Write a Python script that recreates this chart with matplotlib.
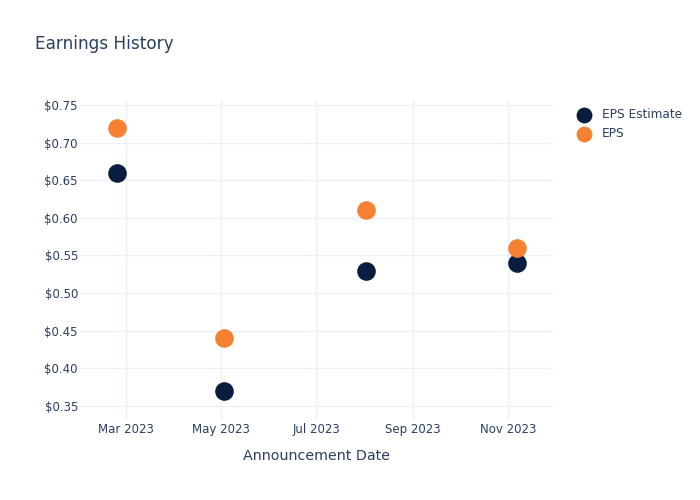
import matplotlib
matplotlib.use("Agg")
import matplotlib.pyplot as plt
import matplotlib.ticker as mticker
from datetime import datetime

dates = ["2023-02-23", "2023-05-03", "2023-08-02", "2023-11-07"]
eps_estimate = [0.66, 0.37, 0.53, 0.54]
eps_actual = [0.72, 0.44, 0.61, 0.56]
tick_dates = ["2023-03-01", "2023-05-01", "2023-07-01", "2023-09-01", "2023-11-01"]
tick_labels = ["Mar 2023", "May 2023", "Jul 2023", "Sep 2023", "Nov 2023"]
y_ticks = [0.35, 0.40, 0.45, 0.50, 0.55, 0.60, 0.65, 0.70, 0.75]

TEXT = "#2a3f5f"
GRID = "#ebf0f8"
NAVY = "#0b1d3f"
ORANGE = "#f58232"

plt.rcParams['font.family'] = ['DejaVu Sans']

x = [datetime.strptime(d, "%Y-%m-%d") for d in dates]
xt = [datetime.strptime(d, "%Y-%m-%d") for d in tick_dates]

fig = plt.figure(figsize=(7, 5), dpi=100)
ax = fig.add_axes([80/700, 80/500, 473/700, 320/500])

ax.scatter(x, eps_estimate, s=180, color=NAVY, label="EPS Estimate", zorder=3, linewidths=0)
ax.scatter(x, eps_actual, s=180, color=ORANGE, label="EPS", zorder=3, linewidths=0)

ax.set_xlim(datetime(2023, 1, 30, 12), datetime(2023, 11, 29, 22))
ax.set_ylim(0.3314, 0.7566)

ax.set_xticks(xt)
ax.set_xticklabels(tick_labels)
ax.set_yticks(y_ticks)
ax.yaxis.set_major_formatter(mticker.FuncFormatter(lambda v, p: f"${v:.2f}"))

ax.grid(True, color=GRID, linewidth=1, zorder=0)
for s in ax.spines.values():
    s.set_visible(False)
ax.tick_params(axis='both', length=0, colors=TEXT, labelsize=8.5)
ax.tick_params(axis='x', pad=2.5)
ax.tick_params(axis='y', pad=1.5)

ax.set_xlabel("Announcement Date", color=TEXT, fontsize=10.3, labelpad=9)

fig.text(35/700, 1 - 44/500, "Earnings History", color=TEXT, fontsize=12.2, va='center', ha='left')

leg = ax.legend(loc='upper left', bbox_to_anchor=(572/700, 1 - 103/500), bbox_transform=fig.transFigure,
                frameon=False, fontsize=8.7, handletextpad=0.9, labelspacing=0.5,
                borderaxespad=0, markerscale=0.85, handlelength=1.2)
for t in leg.get_texts():
    t.set_color(TEXT)

fig.savefig("out.png", dpi=100, facecolor="white")
